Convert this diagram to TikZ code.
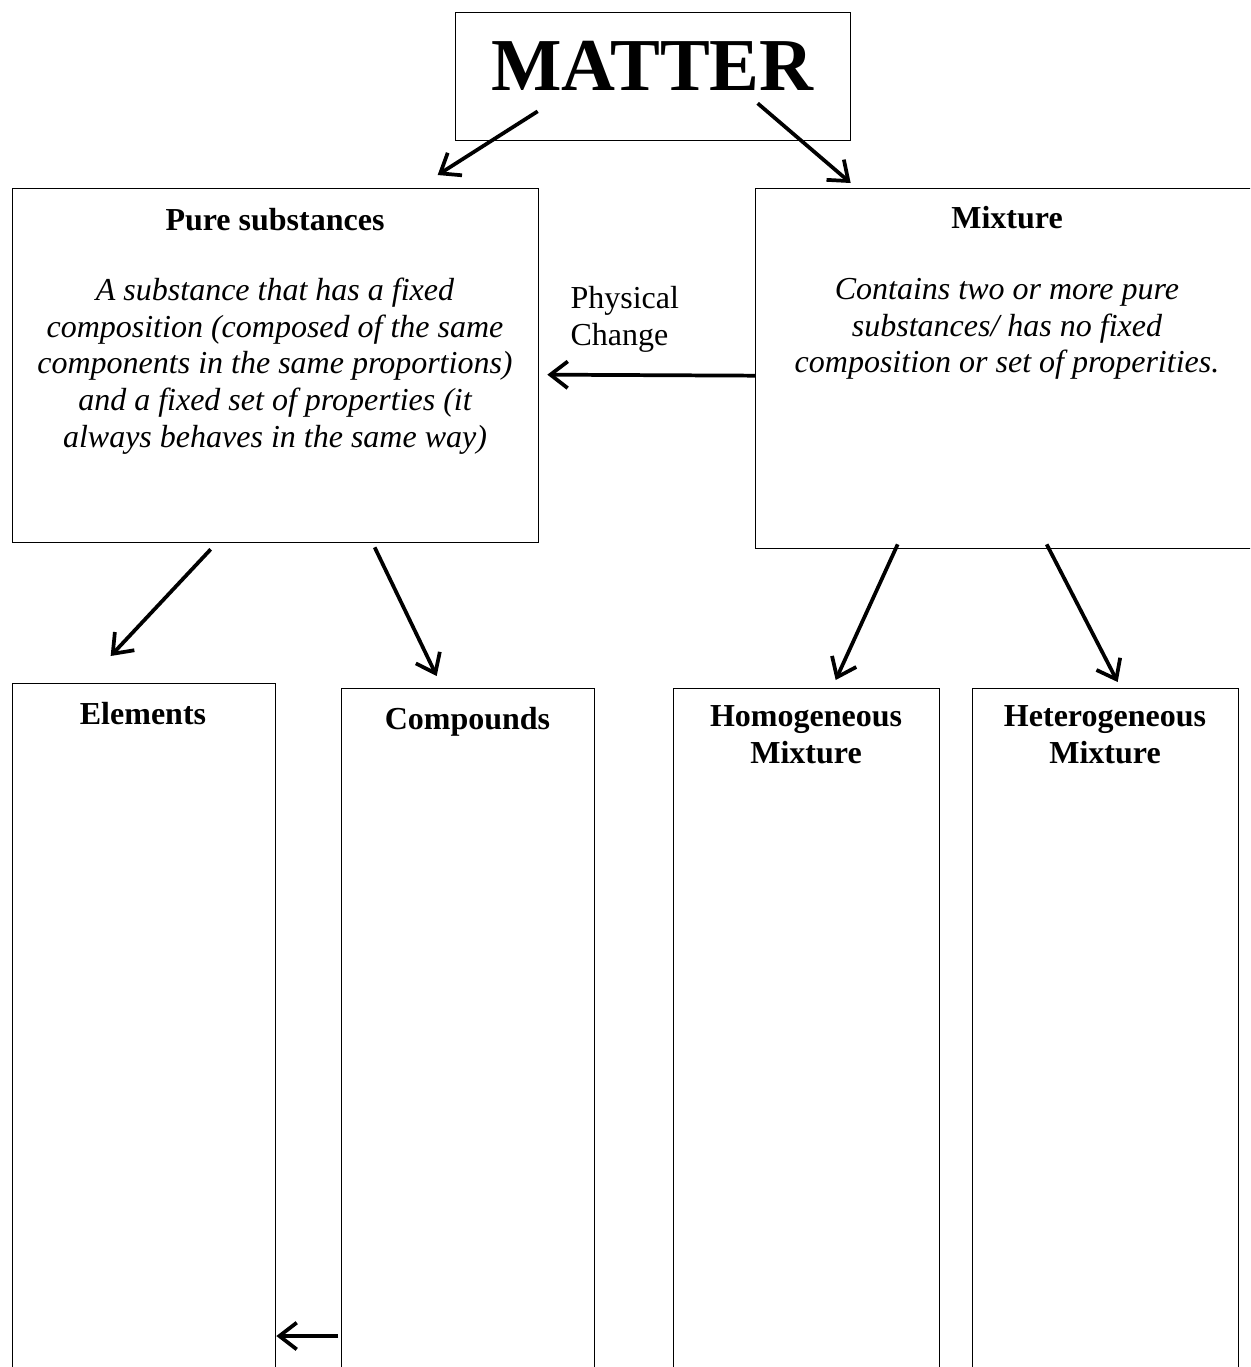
\documentclass[tikz,border=0pt]{standalone}
\usepackage{fontspec}
\setmainfont{Liberation Serif}
\usetikzlibrary{calc,arrows.meta}
\tikzset{x=0.375pt, y=-0.375pt,
    panel/.style={draw=black, line width=0.5pt, anchor=north west, inner sep=0pt},
    panel title/.style={font=\fontsize{12}{13.8}\selectfont\bfseries, align=center},
    panel text/.style={font=\fontsize{12}{13.8}\selectfont\itshape, align=center},
    link/.style={line width=1.4pt,
           -{Straight Barb[length=6.5pt, width=10pt, line width=1.4pt]}}
    }
\def\Panel#1#2#3#4#5{%
  \node[panel, minimum width=#4*0.375pt, minimum height=#5*0.375pt] (#1) at (#2,#3) {};
}
\begin{document}
\begin{tikzpicture}
\useasboundingbox (0,0) rectangle (1250,1367);
\clip (0,0) rectangle (1250,1367);
% boxes
\Panel{matter}{455}{12}{395}{128}
\Panel{pure}{12}{188}{526}{354}
\Panel{mix}{755}{188}{504}{360}
\Panel{elem}{12}{683}{263}{760}
\Panel{comp}{341}{688}{253}{760}
\Panel{homo}{673}{688}{266}{760}
\Panel{hetero}{972}{688}{266}{760}
% texts
\node[font=\fontsize{28}{32}\selectfont\bfseries] (matter title) at (652.5,66) {MATTER};
\node[panel title] (pure title) at (275,220) {Pure substances};
\node[panel text] (pure text) at (275,366) {A substance that has a fixed\\
  composition (composed of the same\\ components in the same proportions)\\
  and a fixed set of properties (it\\ always behaves in the same way)};
\node[panel title] (mix title) at (1007,218) {Mixture};
\node[panel text] (mix text) at (1007,329) {Contains two or more pure\\
  substances/ has no fixed\\ composition or set of properities.};
\node[font=\fontsize{12}{13.8}\selectfont, align=left, anchor=west, inner sep=0pt]
  (change) at (570,319) {Physical\\ Change};
\node[panel title] (elem title) at (143,714) {Elements};
\node[panel title] (comp title) at (467.5,722) {Compounds};
\node[panel title] (homo title) at (806,735) {Homogeneous\\ Mixture};
\node[panel title] (hetero title) at (1105,735) {Heterogeneous\\ Mixture};
% arrows
\draw[link] ($(matter.south)+(-115.5,-30)$) -- ($(pure.north)+(162,-13)$);
\draw[link] ($(matter.south)+(104.5,-38)$) -- ($(mix.north)+(-157,-5)$);
\draw[link] ($(mix.west)+(0,7)$) -- ($(pure.east)+(8,9)$);
\draw[link] ($(pure.south)+(-65,6)$) -- ($(elem.north)+(-33.5,-27)$);
\draw[link] ($(pure.south)+(99,4)$) -- ($(comp.north)+(-31.5,-12)$);
\draw[link] ($(mix.south)+(-110,-5)$) -- ($(homo.north)+(29,-8)$);
\draw[link] ($(mix.south)+(39,-5)$) -- ($(hetero.north)+(12,-6)$);
\draw[link] ($(comp.north west)+(-3,648)$) -- ($(elem.north east)+(0,653)$);
\end{tikzpicture}
\end{document}
